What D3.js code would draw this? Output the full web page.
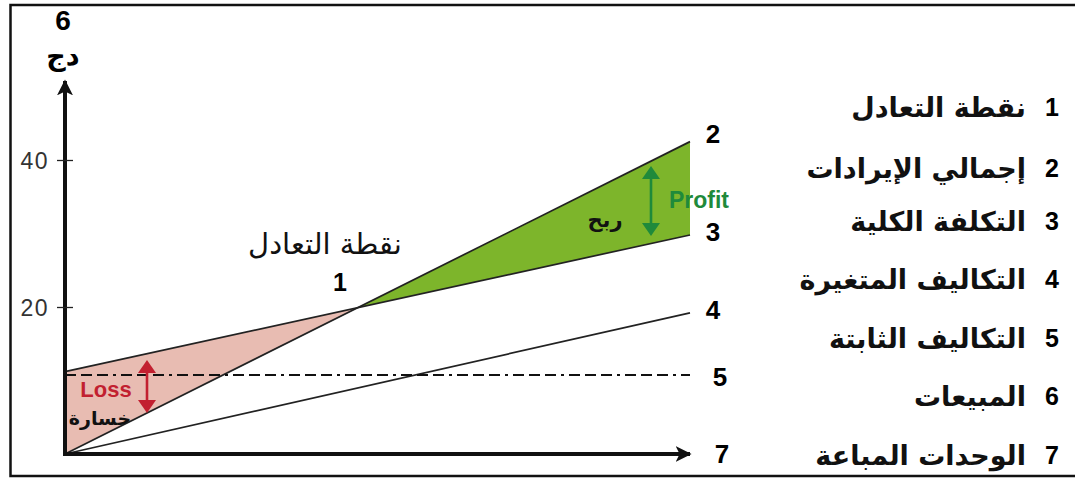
<!DOCTYPE html>
<html><head><meta charset="utf-8">
<script src="https://cdn.jsdelivr.net/npm/d3@7"></script>
<style>body{margin:0;background:#fff}svg{display:block}</style>
</head><body>
<svg id="c" width="1075" height="479"></svg>
<script>
// Data (units sold 0..100, money in دج)
const units = [0, 100];
const revenue = [0, 42.5];        // line 2
const totalCost = [11.2, 29.8];   // line 3
const variableCost = [0, 19.2];   // line 4
const fixedCost = [10.8, 10.8];   // line 5
const yTicks = [20, 40];
const lineLabels = ["2", "3", "4", "5", "7"];
const legendNums = ["1", "2", "3", "4", "5", "6", "7"];
const legendTexts = ["نقطة التعادل", "إجمالي الإيرادات", "التكلفة  الكلية", "التكاليف المتغيرة", "التكاليف الثابتة", "المبيعات", "الوحدات المباعة"];

const svg = d3.select("#c");
const x = d3.scaleLinear().domain([0, 100]).range([65, 690]);
const y = d3.scaleLinear().domain([0, 40]).range([454, 160]);
const LAT = "Liberation Sans, Arial, sans-serif";
const AR = "DejaVu Sans, sans-serif";

// frame
svg.append("path").attr("d", "M1075,5 H10.5 V476 H1075").attr("fill", "none").attr("stroke", "#111").attr("stroke-width", 2.5);

const lerp = (arr, u) => arr[0] + (arr[1] - arr[0]) * u / 100;
// break-even
const be = (totalCost[0] - revenue[0]) / ((revenue[1] - revenue[0]) - (totalCost[1] - totalCost[0])) * 100;
const beY = lerp(revenue, be);

// loss area
svg.append("path").attr("d", d3.line()([[x(0), y(totalCost[0])], [x(be), y(beY)], [x(0), y(revenue[0])]]) + "Z")
  .attr("fill", "#e8bcb2");
// profit area
svg.append("path").attr("d", d3.line()([[x(be), y(beY)], [x(100), y(revenue[1])], [x(100), y(totalCost[1])]]) + "Z")
  .attr("fill", "#7db52b");

// lines
const ln = d3.line().x(d => x(d[0])).y(d => y(d[1]));
[revenue, totalCost, variableCost].forEach(s => {
  svg.append("path").attr("d", ln(units.map((u, i) => [u, s[i]]))).attr("fill", "none").attr("stroke", "#222").attr("stroke-width", 1.7);
});
svg.append("path").attr("d", ln(units.map((u, i) => [u, fixedCost[i]]))).attr("fill", "none")
  .attr("stroke", "#111").attr("stroke-width", 2).attr("shape-rendering", "crispEdges")
  .attr("stroke-dasharray", "11,5,11,5,11,5,3,5");

// axes
const defs = svg.append("defs");
defs.append("marker").attr("id", "ah").attr("viewBox", "0 0 10 10").attr("refX", 9).attr("refY", 5)
  .attr("markerWidth", 4).attr("markerHeight", 4).attr("markerUnits", "strokeWidth").attr("orient", "auto")
  .append("path").attr("d", "M0,0 L10,5 L0,10 L2.5,5 Z").attr("fill", "#111");
svg.append("line").attr("x1", x(0)).attr("y1", y(0) + 2).attr("x2", x(0)).attr("y2", 81)
  .attr("stroke", "#111").attr("stroke-width", 4).attr("marker-end", "url(#ah)");
svg.append("line").attr("x1", x(0) - 2).attr("y1", y(0)).attr("x2", 690).attr("y2", y(0))
  .attr("stroke", "#111").attr("stroke-width", 4).attr("marker-end", "url(#ah)");

const yAxis = d3.axisLeft(y).tickValues(yTicks).tickSize(0).tickPadding(0);
const yg = svg.append("g").attr("transform", `translate(${x(0)},0)`).call(yAxis);
yg.select(".domain").remove();
yg.selectAll(".tick line").attr("x1", -8).attr("x2", 8).attr("stroke", "#222").attr("stroke-width", 1.3);
yg.selectAll(".tick text").attr("x", -16).attr("dy", "0.35em")
  .style("font-family", LAT).style("font-size", "23px").style("letter-spacing", "1.5px")
  .attr("fill", "#333").attr("text-anchor", "end");

// axis title
svg.append("text").attr("x", 63).attr("y", 30).attr("text-anchor", "middle").attr("font-family", LAT)
  .attr("font-weight", "bold").attr("font-size", 28).text("6");
svg.append("text").attr("x", 63).attr("y", 65).attr("text-anchor", "middle").attr("font-family", AR)
  .attr("font-weight", "bold").attr("font-size", 27).text("دج");

// line end labels
const labelY = [y(revenue[1]) - 8, y(totalCost[1]) - 3, y(variableCost[1]) - 3, y(fixedCost[1]) + 2, y(0)];
const labelX = [713, 713, 713, 720, 722];
lineLabels.forEach((t, i) => {
  svg.append("text").attr("x", labelX[i]).attr("y", labelY[i]).attr("dy", "0.36em").attr("text-anchor", "middle")
    .attr("font-family", LAT).attr("font-weight", "bold").attr("font-size", 26).text(t);
});

// break-even annotation
svg.append("text").attr("x", 325).attr("y", 254).attr("text-anchor", "middle").attr("font-family", AR)
  .attr("font-size", 29).attr("fill", "#111").text("نقطة التعادل");
svg.append("text").attr("x", 340).attr("y", 291).attr("text-anchor", "middle").attr("font-family", LAT)
  .attr("font-weight", "bold").attr("font-size", 25).text("1");

// double arrows
function dArrow(xp, y1, y2, col) {
  const g = svg.append("g").attr("fill", col).attr("stroke", col);
  g.append("line").attr("x1", xp).attr("x2", xp).attr("y1", y1 + 8).attr("y2", y2 - 8).attr("stroke-width", 2.6);
  g.append("path").attr("stroke", "none").attr("d", `M${xp},${y1} L${xp - 9},${y1 + 13} L${xp + 9},${y1 + 13} Z`);
  g.append("path").attr("stroke", "none").attr("d", `M${xp},${y2} L${xp - 9},${y2 - 13} L${xp + 9},${y2 - 13} Z`);
}
dArrow(651, 166, 236, "#1f8a3b");
dArrow(147, 360, 413, "#c22030");

svg.append("text").attr("x", 699).attr("y", 208).attr("text-anchor", "middle").attr("font-family", LAT)
  .attr("font-weight", "bold").attr("font-size", 23).attr("fill", "#1f8a3b").text("Profit");
svg.append("text").attr("x", 605).attr("y", 227).attr("text-anchor", "middle").attr("font-family", AR)
  .attr("font-weight", "bold").attr("font-size", 21).attr("fill", "#111").text("ربح");
svg.append("text").attr("x", 106).attr("y", 397).attr("text-anchor", "middle").attr("font-family", LAT)
  .attr("font-weight", "bold").attr("font-size", 22).attr("fill", "#c22030").text("Loss");
svg.append("text").attr("x", 100).attr("y", 425).attr("text-anchor", "middle").attr("font-family", AR)
  .attr("font-weight", "bold").attr("font-size", 19).attr("fill", "#111").text("خسارة");

// legend
const legY = [107, 168, 221, 279, 338, 396, 455];
legendNums.forEach((n, i) => {
  svg.append("text").attr("x", 1059).attr("y", legY[i]).attr("dy", "0.36em").attr("text-anchor", "end")
    .attr("font-family", LAT).attr("font-weight", "bold").attr("font-size", 25).text(n);
  svg.append("text").attr("x", 1026).attr("y", legY[i]).attr("dy", "0.36em").attr("text-anchor", "end")
    .attr("font-family", AR).attr("font-weight", "bold").attr("font-size", 27).attr("fill", "#111").text(legendTexts[i]);
});
</script>
</body></html>
